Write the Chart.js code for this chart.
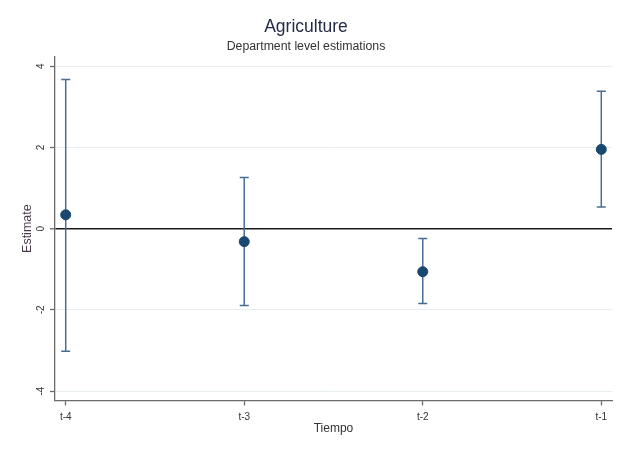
<!DOCTYPE html>
<html lang="es">
<head>
    <meta charset="UTF-8">
    <title>Agriculture - Department level estimations</title>
    <script src="https://cdn.jsdelivr.net/npm/chart.js"></script>
    <style>
        body {
            margin: 0;
            padding: 0;
            background: #ffffff;
        }
    </style>
</head>
<body>
    <canvas id="coefChart" width="625" height="452"></canvas>

    <script>
        // Datos
        const periods = ['t-4', 't-3', 't-2', 't-1'];
        const estimate = [0.34, -0.32, -1.06, 1.95];
        const ciLower = [-3.02, -1.89, -1.84, 0.53];
        const ciUpper = [3.67, 1.26, -0.24, 3.38];
        const yTicks = [-4, -2, 0, 2, 4];

        const fontFamily = '"Liberation Sans", Arial, sans-serif';
        const barColor = '#4a6d93';
        const dotColor = '#1a476f';
        const axisColor = '#6b6b6b';

        // intervalos: dos puntos por periodo y un null para cortar la linea
        const whiskers = [];
        periods.forEach(function(p, i) {
            whiskers.push({ x: i + 1, y: ciLower[i] });
            whiskers.push({ x: i + 1, y: ciUpper[i] });
            whiskers.push({ x: i + 1, y: null });
        });
        const points = estimate.map((v, i) => ({ x: i + 1, y: v }));

        // etiquetas del eje y giradas (estilo Stata)
        const rotatedYLabels = {
            id: 'rotatedYLabels',
            afterDraw(chart) {
                const ctx = chart.ctx;
                const y = chart.scales.y;
                ctx.save();
                ctx.fillStyle = '#333';
                ctx.font = '10px ' + fontFamily;
                ctx.textAlign = 'center';
                ctx.textBaseline = 'middle';
                yTicks.forEach(function(v) {
                    ctx.save();
                    ctx.translate(41, y.getPixelForValue(v));
                    ctx.rotate(-Math.PI / 2);
                    ctx.fillText(String(v), 0, 0);
                    ctx.restore();
                });
                ctx.restore();
            }
        };

        new Chart(document.getElementById('coefChart').getContext('2d'), {
            data: {
                datasets: [
                    {
                        type: 'scatter',
                        data: points,
                        backgroundColor: dotColor,
                        borderColor: dotColor,
                        pointRadius: 5,
                        order: 0
                    },
                    {
                        type: 'line',
                        data: whiskers,
                        borderColor: barColor,
                        borderWidth: 1.5,
                        spanGaps: false,
                        pointStyle: 'line',
                        pointRadius: 4.5,
                        pointBorderColor: barColor,
                        pointBorderWidth: 1.5,
                        order: 1
                    }
                ]
            },
            options: {
                responsive: false,
                animation: false,
                layout: {
                    padding: { left: 0, right: 13, top: 0, bottom: 17.5 }
                },
                plugins: {
                    legend: { display: false },
                    tooltip: { enabled: false },
                    title: {
                        display: true,
                        text: 'Agriculture',
                        color: '#222d45',
                        font: { family: fontFamily, size: 17.5, weight: 'normal' },
                        padding: { top: 17, bottom: 0 }
                    },
                    subtitle: {
                        display: true,
                        text: 'Department level estimations',
                        color: '#333',
                        font: { family: fontFamily, size: 12.3 },
                        padding: { top: 1, bottom: 3 }
                    }
                },
                scales: {
                    x: {
                        type: 'linear',
                        min: 0.94,
                        max: 4.06,
                        afterBuildTicks(scale) {
                            scale.ticks = periods.map((p, i) => ({ value: i + 1 }));
                        },
                        ticks: {
                            color: '#333',
                            font: { family: fontFamily, size: 10 },
                            padding: 6,
                            maxRotation: 0,
                            callback: (v) => periods[v - 1]
                        },
                        grid: {
                            drawOnChartArea: false,
                            tickLength: 5,
                            tickColor: axisColor,
                            tickWidth: 1.3
                        },
                        border: { color: axisColor, width: 1.3 },
                        title: {
                            display: true,
                            text: 'Tiempo',
                            color: '#333',
                            font: { family: fontFamily, size: 12, lineHeight: 1 },
                            padding: { top: -7, bottom: 0 }
                        }
                    },
                    y: {
                        type: 'linear',
                        min: -4.23,
                        max: 4.23,
                        afterBuildTicks(scale) {
                            scale.ticks = yTicks.map(v => ({ value: v }));
                        },
                        afterFit(scale) {
                            scale.width = 55;
                        },
                        ticks: { display: false },
                        grid: {
                            color: (c) => c.tick && c.tick.value === 0 ? '#1a1a1a' : '#e6eef0',
                            lineWidth: (c) => c.tick && c.tick.value === 0 ? 1.6 : 1,
                            tickLength: 5,
                            tickColor: axisColor,
                            tickWidth: 1.3
                        },
                        border: { color: axisColor, width: 1.3 },
                        title: {
                            display: true,
                            text: 'Estimate',
                            color: '#4a3c4a',
                            font: { family: fontFamily, size: 12.5 },
                            padding: { top: 20.5, bottom: 0 }
                        }
                    }
                }
            },
            plugins: [rotatedYLabels]
        });
    </script>
</body>
</html>
